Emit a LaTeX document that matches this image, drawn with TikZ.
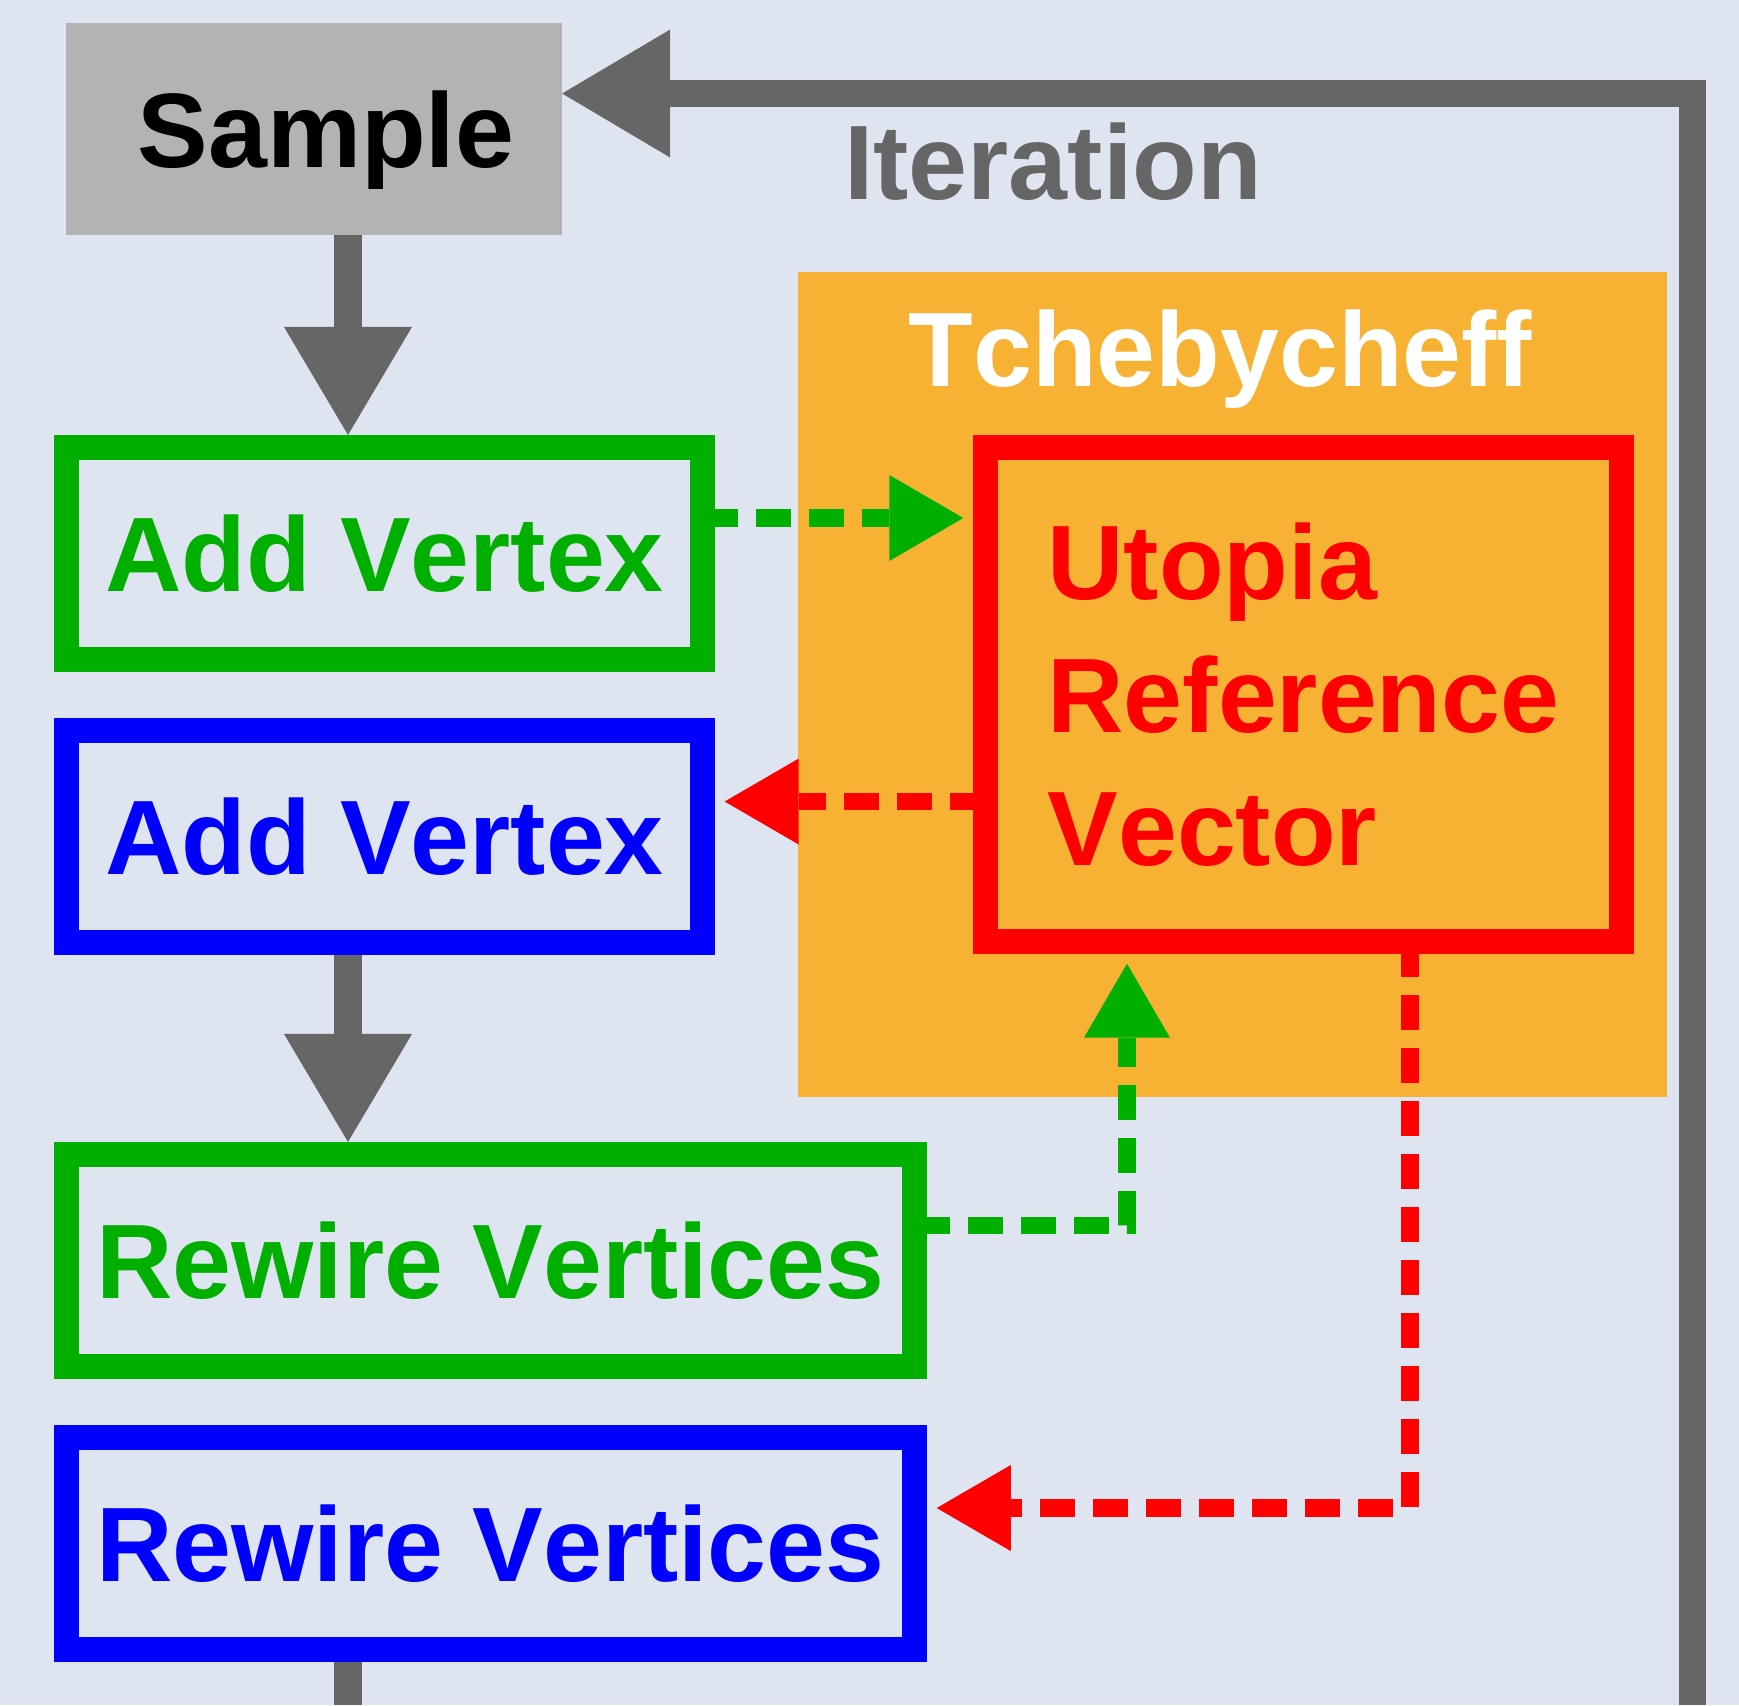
\documentclass[tikz,border=0pt]{standalone}
\usepackage{fontspec}
\setmainfont{Liberation Sans}[Kerning=Off]
\usepackage{tikz}
\usetikzlibrary{arrows.meta, calc}
\definecolor{bgblue}{RGB}{223,229,240}
\definecolor{samplegray}{RGB}{179,179,179}
\definecolor{flowgray}{RGB}{102,102,102}
\definecolor{stepgreen}{RGB}{0,175,0}
\definecolor{stepblue}{RGB}{0,0,255}
\definecolor{stepred}{RGB}{255,0,0}
\definecolor{tchorange}{RGB}{247,178,52}
\tikzset{
  stepbox/.style={draw, line width=0.25cm, inner sep=0pt, outer sep=0pt, minimum height=2.12cm},
  oneline/.style={text height=0.76cm, text depth=0pt},
  samplebox/.style={fill=samplegray, inner sep=0pt, outer sep=0pt, minimum width=4.96cm, minimum height=2.12cm, oneline},
  greenstep/.style={stepbox, oneline, draw=stepgreen, text=stepgreen},
  bluestep/.style={stepbox, oneline, draw=stepblue, text=stepblue},
  flow/.style={flowgray, line width=0.27cm, -{Triangle[length=1.08cm, width=1.28cm, line width=0pt]}},
  dep/.style={line width=0.175cm, dash pattern=on 0.35cm off 0.18cm, shorten >=0.22cm,
    -{Triangle[length=0.74cm, width=0.86cm, line width=0pt]}}
}

\begin{document}
\begin{tikzpicture}[x=0.01cm, y=-0.01cm, font=\bfseries\fontsize{30.1}{37.8}\selectfont]
        % Canvas
        \fill[bgblue] (0,0) rectangle (1739,1705);
        \useasboundingbox (0,0) rectangle (1739,1705);

        % Tchebycheff block
        \node[fill=tchorange, inner sep=0pt, outer sep=0pt, minimum width=8.69cm, minimum height=8.25cm] (tcheby) at (1232.5,684.5) {};
        \node[text=white, anchor=base] (tchebytitle) at (1220.5,386) {Tchebycheff};
        \node[stepbox, draw=stepred, text=stepred, align=left, minimum width=6.36cm, minimum height=4.94cm] (utopia) at (1303.5,694.5) {Utopia\\Reference\\Vector};

        % Steps
        \node[samplebox] (sample) at (314,129) {\hspace*{0.24cm}Sample};
        \node[greenstep, minimum width=6.36cm] (addgreen)    at (384.5, 553.5) {Add Vertex};
        \node[bluestep,  minimum width=6.36cm] (addblue)     at (384.5, 836.5) {Add Vertex};
        \node[greenstep, minimum width=8.48cm] (rewiregreen) at (490.5,1260.5) {Rewire Vertices};
        \node[bluestep,  minimum width=8.48cm] (rewireblue)  at (490.5,1543.5) {Rewire Vertices};

        \node[text=flowgray, anchor=base] (iteration) at (1053,199) {Iteration};

        % Routing points
        \coordinate (spine)    at (348,0);
        \coordinate (loopfoot) at (1692,1705);
        \coordinate (looptop)  at (0,93.5);
        \coordinate (rowin)    at (0,518);
        \coordinate (rowout)   at (0,801.5);
        \coordinate (rowup)    at (0,1225.5);
        \coordinate (rowdown)  at (0,1508);
        \coordinate (colup)    at (1127,0);
        \coordinate (coldown)  at (1410,0);

        % Main flow
        \draw[flow, shorten >=0.125cm] (sample.south -| spine) -- (addgreen.north -| spine);
        \draw[flow, shorten <=0.125cm, shorten >=0.125cm] (addblue.south -| spine) -- (rewiregreen.north -| spine);
        \draw[flowgray, line width=0.27cm, shorten <=0.125cm] (rewireblue.south -| spine) -- (spine |- loopfoot);
        \draw[flow] (loopfoot) |- (sample.east |- looptop);

        % Exchange with the reference vector
        \draw[dep, stepgreen] (addgreen.east |- rowin) -- (utopia.west |- rowin);
        \draw[dep, stepred] (utopia.west |- rowout) -- (addblue.east |- rowout);
        \draw[dep, stepgreen] (rewiregreen.east |- rowup) -| (utopia.south -| colup);
        \draw[dep, stepred] (utopia.south -| coldown) |- (rewireblue.east |- rowdown);
\end{tikzpicture}
\end{document}
